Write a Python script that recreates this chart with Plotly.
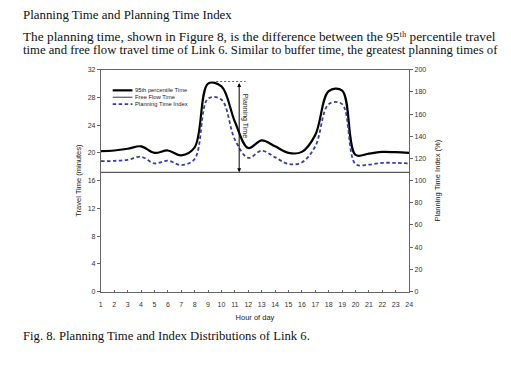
import plotly.graph_objects as go

# ---- data ----
hours = list(range(1, 25))
p95_time = [20.25, 20.35, 20.6, 20.95, 20.0, 20.35, 19.65, 20.8, 30.0, 29.6, 24.5, 20.7,
            21.8, 20.95, 20.0, 20.15, 22.6, 28.9, 29.0, 19.7, 19.9, 20.15, 20.1, 20.0]
free_flow = [17.2] * 24
pti = [117.5, 117.8, 118.8, 121.5, 115.5, 118.0, 114.0, 119.5, 174.0, 173.0, 137.0, 120.5,
       127.0, 121.0, 115.0, 116.5, 131.0, 169.0, 169.0, 115.0, 114.5, 116.0, 116.0, 115.5]
left_ticks = [0, 4, 8, 12, 16, 20, 24, 28, 32]
right_ticks = [0, 20, 40, 60, 80, 100, 120, 140, 160, 180, 200]
series_names = ["95th percentile Time", "Free Flow Time", "Planning Time Index"]
planning_peak = 30.3      # top of the "Planning Time" bracket (minutes)
bracket_hour = 11.32      # hour at which the bracket arrow is drawn

W, H = 511, 373
def px(x):
    return x / W
def py(y):
    return 1 - y / H

SANS = "Liberation Sans, Arial, sans-serif"
SERIF = "Liberation Serif, Times New Roman, serif"
BLUE = "#3b3ba6"

styles = [dict(color="black", width=2.2),
          dict(color="#333333", width=1),
          dict(color=BLUE, width=1.8, dash="3.5px,2.5px")]

fig = go.Figure()
fig.add_trace(go.Scatter(x=hours, y=p95_time, name=series_names[0], mode="lines",
                         line=dict(**styles[0], shape="spline", smoothing=1.0)))
fig.add_trace(go.Scatter(x=hours, y=free_flow, name=series_names[1], mode="lines",
                         line=dict(**styles[1])))
fig.add_trace(go.Scatter(x=hours, y=pti, name=series_names[2], mode="lines", yaxis="y2",
                         line=dict(**styles[2], shape="spline", smoothing=1.0)))

fig.update_layout(
    width=W, height=H, margin=dict(l=0, r=0, t=0, b=0),
    paper_bgcolor="white", plot_bgcolor="white",
    showlegend=False,
    xaxis=dict(domain=[px(100), px(412)], range=[1, 24], tickvals=hours,
               ticktext=[str(h) for h in hours], showgrid=False, zeroline=False,
               showline=True, linecolor="#666", linewidth=1, mirror=True,
               ticks="inside", ticklen=2, tickcolor="#666", ticklabelstandoff=6,
               tickfont=dict(family=SANS, size=7, color="#333"),
               title=dict(text="Hour of day", font=dict(family=SANS, size=7.5, color="#222"), standoff=7)),
    yaxis=dict(domain=[py(293), py(67)], range=[0, 32], tickvals=left_ticks,
               showgrid=False, zeroline=False, showline=True, linecolor="#666", linewidth=1,
               ticks="outside", ticklen=3, tickcolor="#666",
               tickfont=dict(family=SANS, size=7, color="#333"),
               title=dict(text="Travel Time (minutes)", font=dict(family=SANS, size=7.5, color="#222"), standoff=4)),
    yaxis2=dict(overlaying="y", side="right", range=[0, 200], tickvals=right_ticks,
                showgrid=False, zeroline=False, showline=True, linecolor="#666", linewidth=1,
                ticks="outside", ticklen=3, tickcolor="#666",
                tickfont=dict(family=SANS, size=7, color="#333"),
                title=dict(text="Planning Time Index (%)", font=dict(family=SANS, size=7.5, color="#222"), standoff=9)),
)

# compact legend (top-left inside the plot)
for i, (name, st) in enumerate(zip(series_names, styles)):
    yy = 88 + 7 * i
    fig.add_shape(type="line", xref="paper", yref="paper", x0=px(112), x1=px(132),
                  y0=py(yy), y1=py(yy), line=st)
    fig.add_annotation(x=px(133), y=py(yy), xref="paper", yref="paper", xanchor="left",
                       yanchor="middle", text=name, showarrow=False,
                       font=dict(family=SANS, size=5.8, color="#222"))

# Planning time bracket: double-headed arrow from free-flow to peak
fig.add_annotation(x=bracket_hour, y=free_flow[0], ax=bracket_hour, ay=planning_peak,
                   xref="x", yref="y", axref="x", ayref="y", text="", showarrow=True,
                   arrowhead=2, startarrowhead=2, arrowside="end+start", arrowsize=0.8,
                   arrowwidth=1, arrowcolor="black")
fig.add_shape(type="line", xref="x", yref="y", x0=9.6, x1=11.8, y0=planning_peak, y1=planning_peak,
              line=dict(color="#333", width=0.8, dash="2px,2px"))
fig.add_annotation(x=bracket_hour + 0.42, y=25.4, xref="x", yref="y", text="Planning Time",
                   textangle=90, showarrow=False, font=dict(family=SANS, size=7, color="#222"))

# surrounding document text
def doc_text(y, text, size):
    fig.add_annotation(x=px(20), y=py(y), xref="paper", yref="paper", xanchor="left",
                       yanchor="middle", text=text, showarrow=False, borderpad=0,
                       font=dict(family=SERIF, size=size, color="#111"))

doc_text(11, "Planning Time and Planning Time Index", 12.9)
doc_text(33, "The planning time, shown in Figure 8, is the difference between the 95\u1d57\u02b0 percentile travel", 13.3)
doc_text(47, "time and free flow travel time of Link 6. Similar to buffer time, the greatest planning times of", 12.7)
doc_text(338, "Fig. 8. Planning Time and Index Distributions of Link 6.", 12.7)

# remove the default 8px page margin so the figure sits at the window's top-left corner
fig.write_html("out.html", config={"displayModeBar": False},
               post_script="document.body.style.margin='0';")
